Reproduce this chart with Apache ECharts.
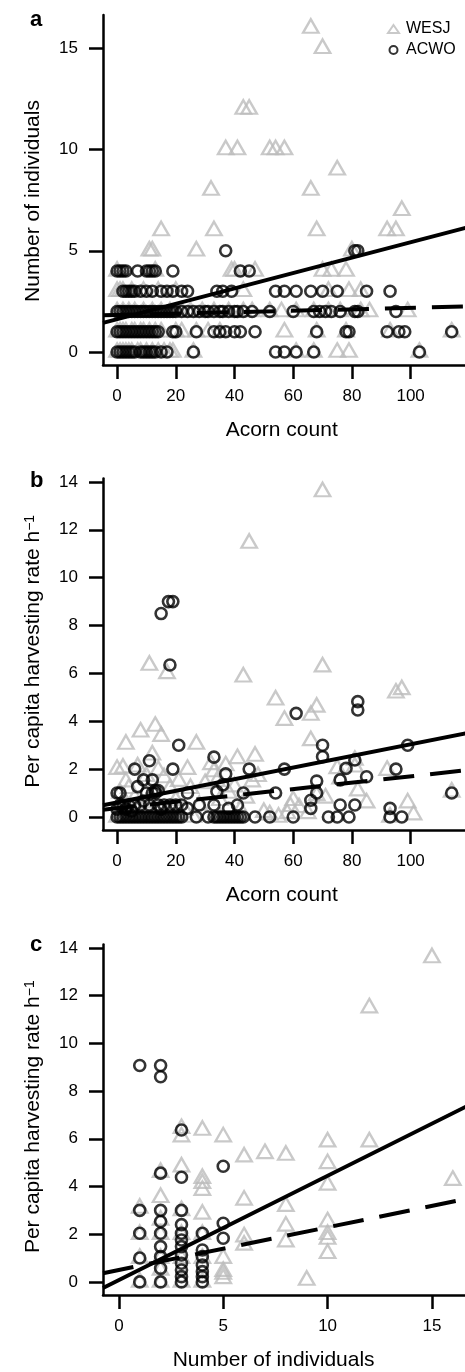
<!DOCTYPE html>
<html><head><meta charset="utf-8">
<script src="https://cdn.jsdelivr.net/npm/echarts@6/dist/echarts.min.js"></script>
<style>html,body{margin:0;padding:0;background:#fff}#c{width:465px;height:1372px}</style>
</head><body><div id="c"></div>
<script>
// ---------- data ----------
// Panel a: [acorn count, number of individuals]
const aWesj = [
 [0,0],[1,0],[2,0],[3,0],[4,0],[5,0],[7,0],[8,0],[10,0],[12,0],[14,0],[16,0],[18,0],[19,0],[26,0],[61,0],[67,0],[75,0],[79,0],[103,0],
 [0,1],[1,1],[2,1],[3,1],[5,1],[6,1],[8,1],[9,1],[11,1],[13,1],[15,1],[20,1],[22,1],[27,1],[31,1],[35,1],[57,1],[68,1],[78,1],[93,1],[114,1],
 [0,2],[2,2],[4,2],[6,2],[9,2],[12,2],[15,2],[18,2],[22,2],[25,2],[29,2],[33,2],[38,2],[43,2],[46,2],[52,2],[56,2],[61,2],[67,2],[72,2],[76,2],[83,2],[86,2],[99,2],
 [0,3],[1,3],[2,3],[5,3],[9,3],[14,3],[20,3],[43,3],[72,3],[79,3],[83,3],
 [0,4],[13,4],[39,4],[40,4],[47,4],[70,4],[73,4],[78,4],
 [11,5],[12,5],[27,5],[80,5],
 [15,6],[33,6],[68,6],[92,6],[95,6],
 [97,7],[32,8],[66,8],[75,9],
 [37,10],[41,10],[52,10],[54,10],[57,10],
 [43,12],[45,12],[70,15],[66,16]
];
const aAcwo = [
 [0,0],[1,0],[2,0],[3,0],[4,0],[5,0],[6,0],[8,0],[9,0],[10,0],[11,0],[12,0],[13,0],[15,0],[17,0],[26,0],[54,0],[57,0],[61,0],[67,0],[103,0],
 [0,1],[1,1],[2,1],[3,1],[4,1],[5,1],[6,1],[7,1],[8,1],[9,1],[10,1],[11,1],[12,1],[13,1],[14,1],[19,1],[20,1],[27,1],[33,1],[35,1],[37,1],[40,1],[42,1],[47,1],[68,1],[78,1],[79,1],[92,1],[96,1],[98,1],[114,1],
 [0,2],[1,2],[2,2],[3,2],[4,2],[5,2],[6,2],[7,2],[8,2],[9,2],[10,2],[11,2],[12,2],[13,2],[14,2],[15,2],[16,2],[17,2],[18,2],[19,2],[20,2],
 [22,2],[24,2],[26,2],[28,2],[30,2],[31,2],[33,2],[35,2],[36,2],[38,2],[40,2],[41,2],[43,2],[46,2],[52,2],[60,2],[67,2],[69,2],[71,2],[73,2],[76,2],[81,2],[82,2],[95,2],
 [2,3],[3,3],[4,3],[5,3],[6,3],[8,3],[10,3],[12,3],[15,3],[17,3],[19,3],[22,3],[24,3],[34,3],[36,3],[39,3],[54,3],[57,3],[61,3],[66,3],[70,3],[75,3],[85,3],[93,3],
 [0,4],[1,4],[2,4],[3,4],[7,4],[10,4],[11,4],[12,4],[13,4],[19,4],[42,4],[45,4],
 [37,5],[81,5],[82,5]
];
// Panel b: [acorn count, per capita harvesting rate]
const bWesj = [
 [70,13.6],[45,11.45],[11,6.35],[17,6.0],[43,5.86],[70,6.28],[54,4.9],[57,4.05],[66,4.26],[68,4.6],[95,5.19],[97,5.33],[66,3.2],
 [8,3.56],[13,3.8],[15,3.38],[3,3.05],[27,3.05],[0,2.0],[2,2.05],[24,2.0],[12,2.6],[14,1.96],[16,1.65],[32,2.2],[37,2.15],[41,2.45],
 [47,2.55],[46,1.48],[40,1.27],[34,1.5],[48,1.7],[33,1.9],[75,2.03],[81,2.38],[81,2.1],[92,1.96],[71,0.8],[82,1.1],[85,0.6],[99,0.6],
 [58,0.15],[59,0.45],[60,0.7],[114,1.05],[3,1.48],[1,1.0],[4,1.2],[6,0.8],[10,0.6],[18,1.2],[20,0.7],[25,1.2],[28,0.5],[30,1.4],
 [35,0.7],[38,1.0],[42,0.3],[44,0.8],[50,0.2],[62,0.4],[65,0.15],[0,0],[2,0],[5,0],[8,0],[12,0],[16,0],[20,0],[26,0],[35,0],[40,0],
 [55,0],[93,0],[101,0.1],[7,2.1],[10,1.7],[21,1.5],[23,0.3],[52,0.1],[76,1.6],[68,0.9]
];
const bAcwo = [
 [15,8.5],[17.5,9.0],[19,9.0],[18,6.35],[61,4.33],[82,4.82],[82,4.47],[99,3.0],[70,3.0],[70,2.52],[95,2.0],[57,2.0],[45,2.0],[19,2.0],
 [6,2.0],[11,2.35],[21,3.0],[33,2.5],[37,1.8],[36,1.34],[24,1.0],[43,1.0],[54,1.0],[68,1.5],[68,1.0],[66,0.7],[66,0.36],[76,1.55],
 [78,2.03],[81,2.38],[85,1.68],[81,0.5],[76,0.5],[93,0.36],[114,1.0],[9,1.55],[12,1.55],[7,1.27],[1,1.0],[34,1.06],[28,0.5],[33,0.5],
 [41,0.5],[38,0.36],[24,0.36],[47,0],[52,0],[60,0],[72,0],[75,0],[79,0],[93,0],[97,0],[27,0],
 [2,0.5],[3,0.33],[4,0.5],[5,0.25],[6,0.5],[8,0.5],[9,0.67],[10,1.0],[11,0.5],[12,1.0],[13,1.0],[14,0.5],[15,0.33],[16,0.5],[18,0.5],
 [20,0.5],[22,0.5],[1,0.5],[0,0.33],[0,1.0],[13,1.1],[14,1.1],
 [0,0],[1,0],[2,0],[3,0],[4,0],[5,0],[6,0],[7,0],[8,0],[9,0],[10,0],[11,0],[12,0],[13,0],[14,0],[15,0],[16,0],[17,0],[18,0],[19,0],
 [20,0],[21,0],[22,0],[31,0],[33,0],[34,0],[35,0],[36,0],[37,0],[38,0],[39,0],[40,0],[41,0],[42,0],[43,0]
];
// Panel c: [number of individuals, per capita harvesting rate]
const cWesj = [
 [1,3.1],[1,2.0],[1,1.0],[1,0],
 [2,4.6],[2,3.55],[2,2.6],[2,2.0],[2,1.0],[2,0.5],[2,0],
 [3,6.44],[3,6.09],[3,4.83],[3,3.0],[3,2.0],[3,1.0],[3,0],
 [4,6.37],[4,4.35],[4,4.14],[4,3.85],[4,2.85],[4,2.0],[4,1.0],[4,0],
 [5,6.09],[5,1.0],[5,0.45],[5,0.33],[5,0.15],
 [6,5.25],[6,3.44],[6,1.9],[6,1.55],
 [7,5.39],[8,5.32],[8,3.18],[8,2.35],[8,1.69],[9,0.08],
 [10,5.88],[10,4.97],[10,4.07],[10,2.53],[10,2.0],[10,1.8],[10,1.2],
 [12,11.5],[12,5.88],[15,13.6],[16,4.27]
];
const cAcwo = [
 [1,9.07],[2,9.07],[2,8.6],[3,6.37],[2,4.56],[3,4.39],[5,4.85],
 [1,3.0],[1,2.04],[1,1.0],[1,0],
 [2,3.0],[2,2.53],[2,2.04],[2,1.48],[2,1.06],[2,0.57],[2,0],
 [3,3.0],[3,2.4],[3,2.04],[3,1.76],[3,1.48],[3,1.13],[3,0.78],[3,0.5],[3,0.22],[3,0],
 [4,2.04],[4,1.34],[4,1.06],[4,0.71],[4,0.43],[4,0.22],[4,0],
 [5,2.46],[5,1.83]
];
// fitted regression lines: [intercept, slope]
const fitA = { WESJ: [1.62, 0.038], ACWO: [1.83, 0.0035] };
const fitB = { WESJ: [0.61, 0.0243], ACWO: [0.37, 0.0133] };
const fitC = { WESJ: [0.08, 0.437], ACWO: [0.50, 0.179] };
// axis ranges and tick labels
const xRangeAB = [-4.8, 124.8];
const xRangeC = [-0.76, 19.76];
const yRangeA = [-0.64, 16.64];
const yRangeBC = [-0.544, 14.144];
const xTicksAB = [0, 20, 40, 60, 80, 100];
const xTicksC = [0, 5, 10, 15];
const yTicksA = [0, 5, 10, 15];
const yTicksBC = [0, 2, 4, 6, 8, 10, 12, 14];

// ---------- chart ----------
const FONT = 'Liberation Sans, Arial, Helvetica, sans-serif';
const GRAY = '#bcbcbc';
function fitLine(f, r) { return [[r[0], f[0] + f[1] * r[0]], [r[1], f[0] + f[1] * r[1]]]; }

function xAx(i, range, ticks, name, pad) {
  return {
    type: 'value', gridIndex: i, min: range[0], max: range[1],
    axisLine: { show: true, onZero: false, lineStyle: { color: '#000', width: 2.5 } },
    axisTick: { show: true, length: 14, customValues: ticks, lineStyle: { color: '#000', width: 2.5 } },
    axisLabel: { customValues: ticks, margin: 23, fontSize: 17, color: '#000', fontFamily: FONT },
    splitLine: { show: false },
    name: name, nameLocation: 'middle', nameGap: 55,
    nameTextStyle: { fontSize: 21, color: '#000', fontFamily: FONT, padding: pad }
  };
}
function yAx(i, range, ticks, name, pad) {
  return {
    type: 'value', gridIndex: i, min: range[0], max: range[1],
    axisLine: { show: true, onZero: false, lineStyle: { color: '#000', width: 2.5 } },
    axisTick: { show: true, length: 14, customValues: ticks, lineStyle: { color: '#000', width: 2.5 } },
    axisLabel: { customValues: ticks, margin: 25, fontSize: 17, color: '#000', fontFamily: FONT },
    splitLine: { show: false },
    name: name, nameLocation: 'middle', nameGap: 59,
    nameTextStyle: {
      fontSize: 21, color: '#000', fontFamily: FONT, padding: pad,
      rich: {
        t: { fontSize: 21, color: '#000', fontFamily: FONT },
        s: { fontSize: 14, color: '#000', fontFamily: FONT, verticalAlign: 'top' }
      }
    }
  };
}
function tri(i, data) {
  return { name: 'WESJ', type: 'scatter', xAxisIndex: i, yAxisIndex: i, data: data,
    symbol: 'triangle', symbolSize: [15.5, 13.5], symbolOffset: [0, -2], z: 2,
    itemStyle: { color: 'rgba(0,0,0,0)', borderColor: GRAY, borderWidth: 2.3 } };
}
function circ(i, data) {
  return { name: 'ACWO', type: 'scatter', xAxisIndex: i, yAxisIndex: i, data: data,
    symbol: 'circle', symbolSize: 11, z: 3,
    itemStyle: { color: 'rgba(0,0,0,0)', borderColor: '#000', borderWidth: 2.6 } };
}
function line(i, f, r, dashed) {
  return { type: 'line', xAxisIndex: i, yAxisIndex: i, data: fitLine(f, r), symbol: 'none', z: 4,
    silent: true, legendHoverLink: false,
    lineStyle: { color: '#000', width: 4, type: dashed ? [31, 16] : 'solid', cap: 'butt' } };
}

const chart = echarts.init(document.getElementById('c'), null, { renderer: 'canvas' });
const ytitle = '{t|Per capita harvesting rate h}{s|\u22121}';
chart.setOption({
  animation: false,
  backgroundColor: '#fff',
  title: [
    { text: 'a', left: 25, top: 4, textStyle: { fontSize: 22, fontWeight: 'bold', color: '#000', fontFamily: FONT } },
    { text: 'b', left: 25, top: 465, textStyle: { fontSize: 22, fontWeight: 'bold', color: '#000', fontFamily: FONT } },
    { text: 'c', left: 25, top: 929, textStyle: { fontSize: 22, fontWeight: 'bold', color: '#000', fontFamily: FONT } }
  ],
  legend: {
    data: ['WESJ', 'ACWO'], orient: 'vertical', left: 387, top: 21, padding: 0,
    itemWidth: 11, itemHeight: 8, itemGap: 5, selectedMode: false,
    textStyle: { fontSize: 16, color: '#000', fontFamily: FONT, padding: [0, 0, 0, 2] }
  },
  grid: [
    { left: 103, top: 15, width: 380.4, height: 350, outerBoundsMode: 'none' },
    { left: 103, top: 478.5, width: 380.4, height: 351.5, outerBoundsMode: 'none' },
    { left: 103, top: 944.5, width: 428.3, height: 350.4, outerBoundsMode: 'none' }
  ],
  xAxis: [
    xAx(0, xRangeAB, xTicksAB, 'Acorn count', [0, 23, 0, 0]),
    xAx(1, xRangeAB, xTicksAB, 'Acorn count', [0, 23, 0, 0]),
    xAx(2, xRangeC, xTicksC, 'Number of individuals', [0, 87, 0, 0])
  ],
  yAxis: [
    yAx(0, yRangeA, yTicksA, 'Number of individuals', [0, 22, 0, 0]),
    yAx(1, yRangeBC, yTicksBC, ytitle, [0, 0, 0, 6]),
    yAx(2, yRangeBC, yTicksBC, ytitle, [0, 0, 0, 6])
  ],
  series: [
    tri(0, aWesj), circ(0, aAcwo), line(0, fitA.WESJ, xRangeAB, false), line(0, fitA.ACWO, xRangeAB, true),
    tri(1, bWesj), circ(1, bAcwo), line(1, fitB.WESJ, xRangeAB, false), line(1, fitB.ACWO, xRangeAB, true),
    tri(2, cWesj), circ(2, cAcwo), line(2, fitC.WESJ, xRangeC, false), line(2, fitC.ACWO, xRangeC, true)
  ]
});
</script></body></html>
